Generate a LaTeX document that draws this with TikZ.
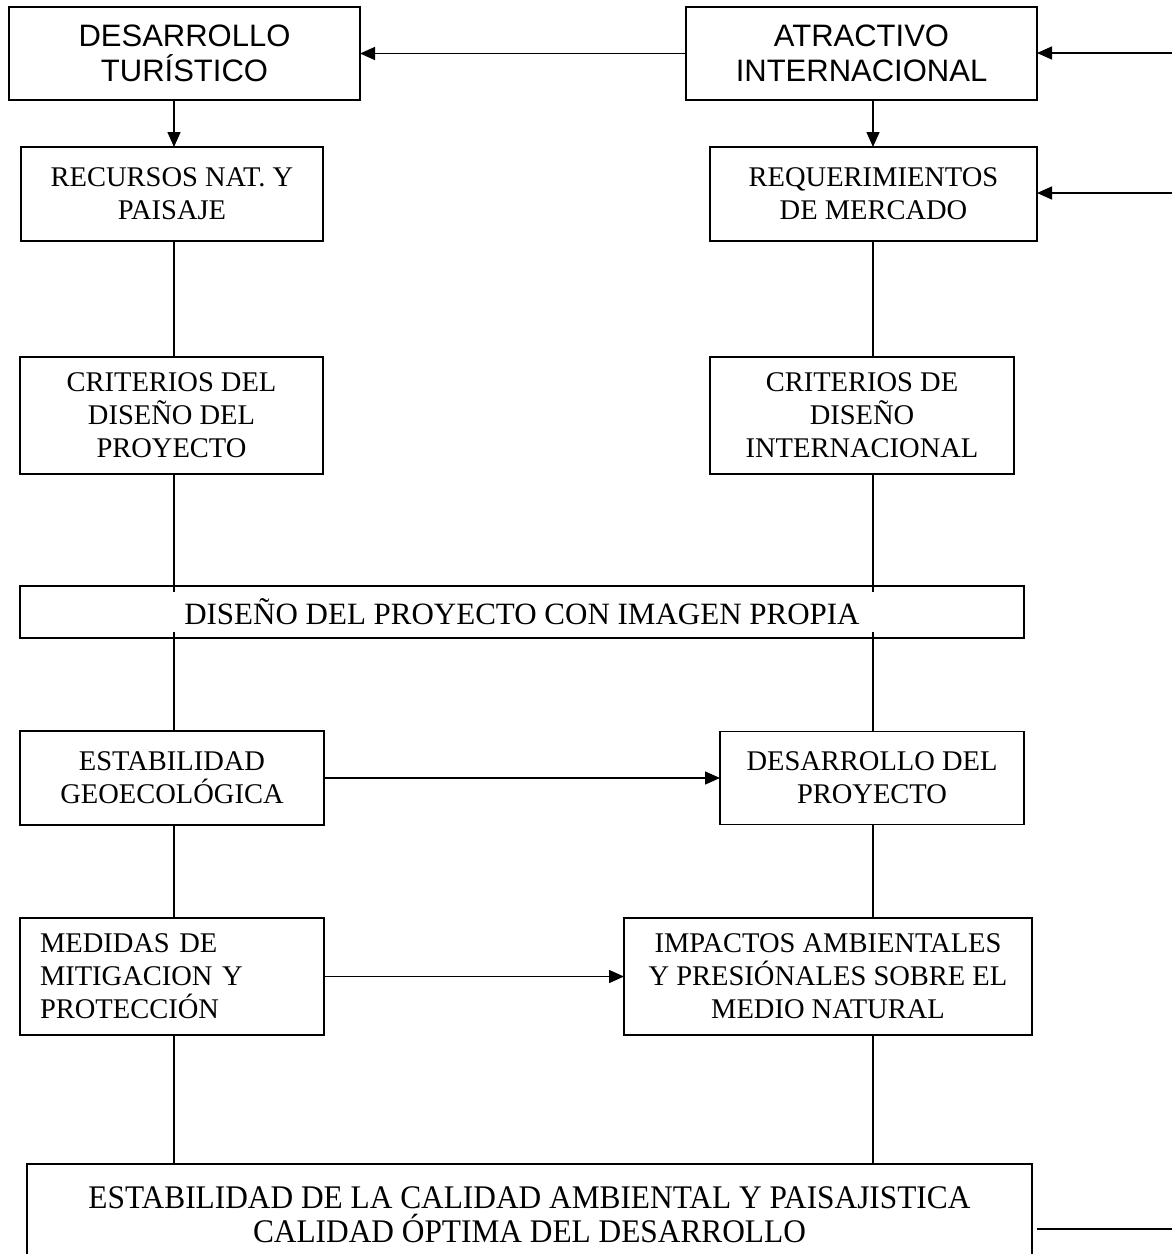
\documentclass[tikz,border=0pt]{standalone}
\usepackage{fontspec}
\setmainfont{Liberation Serif}
\newfontfamily\arialf{Liberation Sans}
\newfontfamily\condf[FakeStretch=0.95]{Liberation Serif}
\usetikzlibrary{arrows.meta}
\begin{document}
\begin{tikzpicture}[x=1pt,y=-1pt,
  box/.style={draw, line width=1.7pt, inner sep=0pt, outer sep=0pt, align=center, font=\fontsize{28.5}{33}\selectfont},
  sbox/.style={box, font=\arialf\fontsize{31}{35}\selectfont},
  conn/.style={line width=1.5pt},
  arr/.style={conn, -{Triangle[length=15pt,width=13pt]}}]
\clip (0,0) rectangle (1172,1254);
\fill[white] (0,0) rectangle (1172,1254);

\node[sbox, minimum width=351pt, minimum height=93pt] (dt) at (184.5,53.5) {DESARROLLO\\TURÍSTICO};
\node[sbox, minimum width=351pt, minimum height=93pt] (at) at (861.5,53.5) {ATRACTIVO\\INTERNACIONAL};
\node[box, minimum width=302pt, minimum height=94pt] (rn) at (172,194) {RECURSOS NAT. Y\\PAISAJE};
\node[box, minimum width=327pt, minimum height=94pt] (rm) at (873.5,194) {REQUERIMIENTOS\\DE MERCADO};
\node[box, minimum width=303pt, minimum height=117pt] (cp) at (171.5,415.5) {CRITERIOS DEL\\DISEÑO DEL\\PROYECTO};
\node[box, minimum width=304pt, minimum height=117pt] (ci) at (862,415.5) {CRITERIOS DE\\DISEÑO\\INTERNACIONAL};
\node[box, minimum width=1004pt, minimum height=52pt, font=\fontsize{31}{35}\selectfont] (dp) at (522,612) {DISEÑO DEL PROYECTO CON IMAGEN PROPIA};
\node[box, minimum width=304pt, minimum height=94pt] (eg) at (172,778) {ESTABILIDAD\\GEOECOLÓGICA};
\node[box, minimum width=304pt, minimum height=93pt] (dd) at (872,778) {DESARROLLO DEL\\PROYECTO};
\node[box, align=left, text width=264pt, inner xsep=20pt, minimum height=117pt] (mm) at (172,976.5) {MEDIDAS DE\\MITIGACION Y\\PROTECCIÓN};
\node[box, minimum width=408pt, minimum height=117pt] (ia) at (828,976.5) {IMPACTOS AMBIENTALES\\Y PRESIÓNALES SOBRE EL\\MEDIO NATURAL};
\node[box, minimum width=1005pt, minimum height=102pt, font=\condf\fontsize{33}{34}\selectfont] (bb) at (529.5,1215) {ESTABILIDAD DE LA CALIDAD AMBIENTAL Y PAISAJISTICA\\CALIDAD ÓPTIMA DEL DESARROLLO};

\coordinate (L) at (174,0);
\coordinate (R) at (873,0);
\coordinate (e1) at (1172,53);
\coordinate (e2) at (1172,193);
\coordinate (e3) at (1172,1229);

\draw[arr] (dt.south -| L) -- (rn.north -| L);
\draw[arr] (at.south -| R) -- (rm.north -| R);
\draw[conn] (rn.south -| L) -- (cp.north -| L);
\draw[conn] (rm.south -| R) -- (ci.north -| R);
\draw[conn, shorten >=-6pt] (cp.south -| L) -- (dp.north -| L);
\draw[conn, shorten >=-6pt] (ci.south -| R) -- (dp.north -| R);
\draw[conn, shorten <=-6pt] (dp.south -| L) -- (eg.north -| L);
\draw[conn, shorten <=-6pt] (dp.south -| R) -- (dd.north -| R);
\draw[conn] (eg.south -| L) -- (mm.north -| L);
\draw[conn] (dd.south -| R) -- (ia.north -| R);
\draw[conn] (mm.south -| L) -- (bb.north -| L);
\draw[conn] (ia.south -| R) -- (bb.north -| R);
\draw[arr] (at.west) -- (dt.east);
\draw[arr] (eg.east) -- (dd.west);
\draw[arr] (mm.east) -- (ia.west);
\draw[arr] (e1) -- (e1 -| at.east);
\draw[arr] (e2) -- (e2 -| rm.east);
\draw[conn] ([xshift=5pt]bb.east |- e3) -- (e3);
\end{tikzpicture}
\end{document}
